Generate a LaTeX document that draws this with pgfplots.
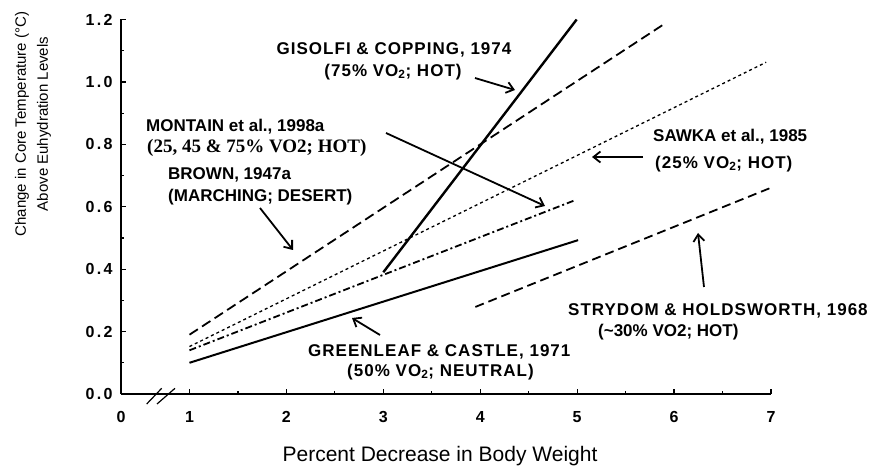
\documentclass[border=0pt]{standalone}
\usepackage{pgfplots}
\pgfplotsset{compat=1.18}
\usepackage{fontspec}
\setmainfont{Liberation Sans}
\newfontfamily\spaced[LetterSpace=6]{Liberation Sans}
\newfontfamily\ticksp[LetterSpace=14]{Liberation Sans}
\newfontfamily\serifb{Liberation Serif}
\usetikzlibrary{arrows.meta}
\begin{document}
\begin{tikzpicture}[x=1pt,y=1pt]
\path[use as bounding box] (0,0) rectangle (876,466);
\begin{axis}[
  at={(121pt,72pt)}, anchor=south west,
  scale only axis, width=650pt, height=374.5pt,
  xmin=0.2935, xmax=7, ymin=0, ymax=1.2,
  axis lines=left, axis line style={line width=1.8pt, -},
  xtick={0.2935,1,2,3,4,5,6,7}, xticklabels={0,1,2,3,4,5,6,7},
  minor xtick={1.5,2.5,3.5,4.5,5.5,6.5},
  ytick={0,0.2,0.4,0.6,0.8,1.0,1.2}, minor ytick={0.1,0.3,0.5,0.7,0.9,1.1},
  /pgf/number format/assume math mode=true,
  yticklabel style={/pgf/number format/fixed, /pgf/number format/fixed zerofill, /pgf/number format/precision=1, xshift=-5pt},
  xticklabel style={yshift=-14pt},
  ticklabel style={font=\ticksp\bfseries\fontsize{16}{16}\selectfont},
  tick style={line width=1.2pt, black},
  major tick length=5pt, minor tick length=3pt,
  tick align=inside,
  clip=false,
]
% Brown 1947a
\addplot[black, line width=1.8pt, dash pattern=on 10pt off 5pt] coordinates {(1,0.19) (5.92,1.19)};
% Gisolfi & Copping 1974
\addplot[black, line width=2.4pt] coordinates {(3,0.39) (4.995,1.2)};
% Sawka 1985
\addplot[black, line width=1.3pt, dash pattern=on 3pt off 3pt] coordinates {(1,0.152) (6.95,1.063)};
% Montain 1998a
\addplot[black, line width=1.8pt, dash pattern=on 7pt off 3pt on 2pt off 3pt] coordinates {(1,0.14) (4.97,0.62)};
% Greenleaf & Castle 1971
\addplot[black, line width=2pt] coordinates {(1,0.10) (5.01,0.493)};
% Strydom & Holdsworth 1968
\addplot[black, line width=1.8pt, dash pattern=on 9pt off 5pt] coordinates {(3.95,0.279) (7.0,0.661)};
\end{axis}
% axis break
\draw[line width=1.2pt] (146.7,62) -- (161.7,77.7);
\draw[line width=1.2pt] (157,62) -- (175,77.7);
% annotations
\tikzset{ann/.style={inner sep=0pt, font=\bfseries\fontsize{17}{17}\selectfont},
  arr/.style={line width=1.8pt, -{Straight Barb[length=7pt,width=11pt]}}}
\node[ann] at (394,416) {\spaced GISOLFI \& COPPING, 1974};
\node[ann] at (393,394) {\spaced (75\% VO\textsubscript{2}; HOT)};
\draw[arr] (475,388) -- (515,376);
\node[ann, anchor=west] at (146,339) {MONTAIN et al., 1998a};
\node[ann, anchor=west, font=\bfseries\fontsize{19}{19}\selectfont] at (147,318) {\serifb (25, 45 \& 75\% VO2; HOT)};
\draw[arr] (386,333) -- (545,260);
\node[ann, anchor=west] at (168,291) {BROWN, 1947a};
\node[ann, anchor=west] at (168,269) {(MARCHING; DESERT)};
\draw[arr] (260,258) -- (293,216);
\node[ann, anchor=west] at (653,329) {SAWKA et al., 1985};
\node[ann, anchor=west] at (655,302) {\spaced (25\% VO\textsubscript{2}; HOT)};
\draw[arr] (643,309) -- (592,309);
\node[ann, anchor=west] at (568,155) {\spaced STRYDOM \& HOLDSWORTH, 1968};
\node[ann, anchor=west] at (598,134) {(\textasciitilde30\% VO2; HOT)};
\draw[arr] (704,179) -- (698,233);
\node[ann, anchor=west] at (308,114) {\spaced GREENLEAF \& CASTLE, 1971};
\node[ann, anchor=west] at (347,94) {\spaced (50\% VO\textsubscript{2}; NEUTRAL)};
\draw[arr] (380,131) -- (352,148);
% axis labels
\node[font=\fontsize{21}{21}\selectfont] at (440,10) {Percent Decrease in Body Weight};
\node[rotate=90, align=center, font=\fontsize{15}{22}\selectfont] at (33,342) {Change in Core Temperature (°C)\\Above Euhydration Levels};
\end{tikzpicture}
\end{document}
